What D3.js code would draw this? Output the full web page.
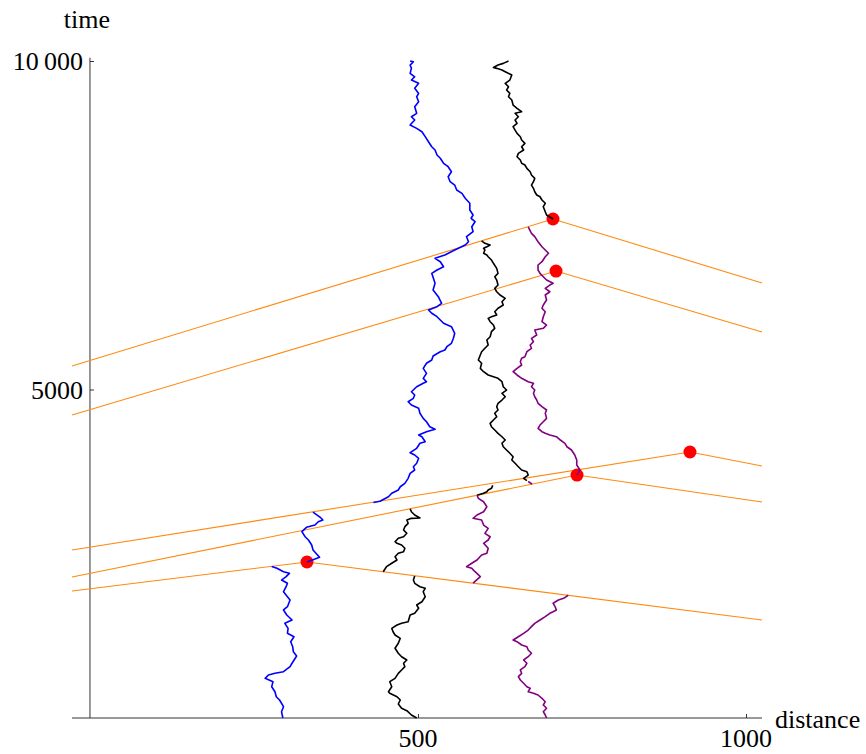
<!DOCTYPE html>
<html>
<head>
<meta charset="utf-8">
<script src="https://cdn.jsdelivr.net/npm/d3@7"></script>
<style>
  body { margin: 0; background: #fff; }
  svg text { font-family: "Liberation Serif", "Times New Roman", serif; }
</style>
</head>
<body>
<div id="container"></div>
<script>
const width = 866;
const height = 754;

// plot range (distance, time)
const xRange = [-27.4, 1024.4];
const tRange = [0, 10000];
const xTicks = [500, 1000];
const tTicks = [5000, 10000];
const tTickLabels = ["5000", "10\u2009000"];

// light rays: left edge -> event -> right edge
const rayLeftT = [1933, 2146, 2557, 4612, 5357];
const eventX = [330.8, 742.4, 914.6, 710.4, 705.8];
const eventT = [2374, 3698, 4049, 6803, 7595];
const rayRightT = [1492, 3288, 3835, 5875, 6621];

// walk pieces, [distance, time]
const blueA = [[294,0],[292,96],[295,172],[289,274],[284,324],[282,400],[277,476],[279,553],[267,604],[272,654],[282,680],[295,705],[305,781],[308,833],[315,944],[310,1009],[309,1085],[306,1161],[311,1237],[301,1289],[302,1365],[297,1441],[308,1492],[300,1568],[295,1644],[301,1694],[305,1796],[301,1846],[295,1922],[299,1998],[301,2050],[292,2100],[299,2151],[304,2202],[295,2227],[285,2278],[277,2306]];
const blueB = [[331,2374],[350,2446],[340,2557],[338,2633],[333,2709],[328,2759],[323,2836],[330,2902],[343,2937],[348,2988],[355,3014],[351,3055],[340,3135]];
const blueC = [[432,3280],[442,3300],[455,3368],[460,3420],[470,3470],[473,3520],[480,3572],[485,3648],[488,3724],[495,3775],[493,3825],[498,3877],[501,3953],[495,4003],[488,4038],[498,4105],[503,4181],[511,4205],[506,4281],[501,4307],[513,4358],[526,4394],[518,4434],[513,4510],[508,4561],[503,4638],[501,4714],[490,4764],[485,4814],[493,4866],[495,4916],[490,4966],[498,5042],[508,5094],[513,5118],[508,5170],[513,5246],[508,5322],[513,5399],[521,5449],[523,5510],[534,5575],[541,5601],[544,5651],[551,5703],[554,5779],[556,5855],[551,5956],[539,6008],[534,6058],[529,6108],[521,6160],[516,6210],[529,6260],[536,6312],[531,6412],[523,6514],[526,6616],[521,6768],[529,6819],[539,6869],[534,6945],[526,6997],[541,7047],[556,7123],[572,7199],[577,7249],[574,7326],[584,7402],[582,7478],[587,7554],[581,7606],[584,7656],[579,7732],[579,7834],[572,7910],[567,7986],[559,8036],[556,8112],[549,8163],[546,8239],[551,8315],[546,8391],[539,8443],[534,8519],[529,8569],[526,8645],[521,8695],[516,8771],[511,8848],[506,8923],[498,8975],[488,9025],[495,9102],[490,9152],[498,9204],[495,9304],[501,9380],[498,9456],[501,9507],[495,9584],[501,9660],[490,9710],[495,9760],[488,9812],[490,9888],[488,9938],[493,9989],[488,10000]];

const blackA = [[498,0],[490,46],[483,111],[475,148],[470,213],[473,274],[468,324],[457,376],[455,400],[460,476],[457,553],[465,604],[470,680],[475,731],[480,781],[478,833],[483,883],[475,933],[470,985],[465,1061],[470,1137],[473,1213],[465,1263],[462,1313],[460,1365],[468,1415],[475,1441],[485,1466],[488,1568],[495,1594],[501,1670],[498,1720],[506,1770],[511,1846],[508,1922],[511,1974],[503,1998],[495,2050],[493,2100],[495,2163]];
const blackB = [[447,2226],[452,2303],[460,2355],[468,2405],[465,2455],[470,2507],[478,2531],[480,2583],[475,2633],[468,2659],[465,2683],[470,2735],[478,2759],[483,2811],[478,2861],[480,2912],[485,2963],[483,3014],[490,3039],[503,3045],[495,3090],[490,3140],[488,3183]];
const blackC = [[590,3390],[600,3420],[605,3444],[607,3470],[612,3496],[614,3540]];
const blackD = [[666,3612],[661,3648],[668,3698],[666,3749],[658,3775],[653,3825],[648,3877],[643,3927],[645,3977],[640,4029],[635,4079],[630,4129],[628,4181],[633,4231],[628,4281],[622,4333],[617,4383],[612,4434],[610,4485],[615,4536],[620,4586],[617,4638],[622,4688],[620,4738],[622,4790],[628,4840],[633,4890],[628,4942],[635,4992],[630,5042],[628,5119],[622,5170],[615,5195],[607,5221],[600,5271],[595,5322],[597,5399],[592,5449],[595,5525],[597,5575],[602,5627],[607,5677],[605,5753],[610,5803],[612,5880],[617,5931],[615,5981],[610,6032],[607,6083],[612,6108],[620,6134],[617,6184],[622,6236],[630,6286],[628,6336],[633,6388],[625,6438],[620,6488],[617,6540],[622,6590],[620,6666],[617,6717],[622,6768],[620,6844],[615,6921],[612,6971],[607,7021],[605,7047],[600,7073],[602,7123],[600,7149],[605,7173],[610,7199],[602,7225],[597,7263]];
const blackE = [[706,7595],[696,7656],[694,7706],[691,7782],[694,7834],[689,7884],[686,7934],[681,7960],[678,8010],[676,8062],[673,8112],[676,8163],[678,8214],[673,8264],[671,8315],[666,8366],[663,8417],[658,8443],[656,8493],[651,8543],[653,8594],[661,8645],[658,8695],[663,8747],[658,8797],[656,8848],[651,8899],[648,8949],[645,9000],[651,9051],[648,9102],[653,9152],[648,9204],[658,9228],[651,9280],[645,9330],[643,9406],[638,9456],[640,9508],[635,9558],[638,9608],[633,9660],[640,9710],[643,9786],[633,9837],[628,9863],[620,9888],[615,9900],[622,9939],[630,9964],[638,10000]];

const purpleA = [[696,0],[694,46],[691,96],[696,148],[691,198],[694,248],[689,300],[683,350],[676,376],[668,400],[671,452],[666,476],[661,528],[656,578],[653,629],[658,680],[656,731],[663,781],[666,833],[661,883],[668,933],[673,985],[668,1035],[666,1085],[658,1111],[651,1161],[645,1187],[653,1237],[661,1289],[668,1339],[673,1390],[678,1441],[686,1492],[694,1542],[701,1594],[706,1618],[711,1644],[709,1694],[706,1746],[714,1796],[722,1822],[729,1868]];
const purpleB = [[584,2052],[595,2151],[587,2227],[582,2278],[574,2303],[582,2355],[590,2405],[597,2481],[605,2507],[607,2583],[600,2659],[607,2709],[610,2759],[602,2811],[607,2887],[600,2937],[597,3014],[584,3039],[590,3090],[600,3140],[605,3216],[600,3292],[592,3344],[590,3390]];
const purpleC = [[674,3560],[668,3600]];
const purpleD = [[742,3698],[747,3775],[742,3851],[742,3927],[739,4003],[734,4079],[727,4129],[724,4181],[717,4231],[711,4281],[701,4307],[694,4333],[689,4358],[683,4409],[686,4459],[691,4510],[696,4561],[694,4638],[696,4688],[689,4738],[683,4790],[681,4840],[678,4890],[676,4942],[678,4992],[673,5042],[676,5094],[668,5118],[658,5170],[651,5221],[645,5271],[651,5322],[658,5373],[656,5423],[658,5475],[663,5499],[666,5575],[673,5627],[671,5677],[676,5727],[673,5779],[681,5829],[678,5905],[691,5931],[696,5981],[689,6032],[691,6108],[694,6184],[689,6236],[691,6286],[696,6362],[694,6438],[701,6488],[694,6540],[701,6590],[706,6616],[696,6666],[691,6717],[686,6768],[683,6819],[683,6895],[689,6945],[694,7021],[699,7073],[694,7123],[689,7173],[683,7249],[678,7326],[673,7377],[668,7475]];

const walks = [
  { pts: blueA, color: "#0000ff" },
  { pts: blueB, color: "#0000ff" },
  { pts: blueC, color: "#0000ff" },
  { pts: blackA, color: "#000000" },
  { pts: blackB, color: "#000000" },
  { pts: blackC, color: "#000000" },
  { pts: blackD, color: "#000000" },
  { pts: blackE, color: "#000000" },
  { pts: purpleA, color: "#800080" },
  { pts: purpleB, color: "#800080" },
  { pts: purpleC, color: "#800080" },
  { pts: purpleD, color: "#800080" }
];

const rays = eventX.map((ex, i) => [
  [xRange[0], rayLeftT[i]],
  [ex, eventT[i]],
  [xRange[1], rayRightT[i]]
]);

const x = d3.scaleLinear().domain(xRange).range([72, 762]);
const y = d3.scaleLinear().domain(tRange).range([718, 61]);

const svg = d3.select("#container").append("svg")
    .attr("width", width)
    .attr("height", height);

const line = d3.line()
    .x(d => x(d[0]))
    .y(d => y(d[1]));

// axes
const axisColor = "#333";
svg.append("g").attr("transform", `translate(0,${y(0)})`)
    .call(d3.axisTop(x).tickValues(xTicks).tickSize(4).tickFormat(""));
svg.append("g").attr("transform", `translate(${x(0)},0)`)
    .call(d3.axisRight(y).tickValues(tTicks).tickSize(4).tickFormat(""));
svg.selectAll(".domain").remove();
svg.selectAll(".tick line").attr("stroke", axisColor);

svg.append("line")
    .attr("x1", x(xRange[0])).attr("x2", x(xRange[1]))
    .attr("y1", y(0)).attr("y2", y(0))
    .attr("stroke", axisColor);
svg.append("line")
    .attr("x1", x(0)).attr("x2", x(0))
    .attr("y1", y(0)).attr("y2", y(10050))
    .attr("stroke", axisColor);

svg.selectAll(".xlab")
    .data(xTicks)
    .enter().append("text")
    .attr("x", d => x(d))
    .attr("y", y(0) + 29)
    .attr("text-anchor", "middle")
    .attr("font-size", 26)
    .text(d => d);

svg.selectAll(".ylab")
    .data(tTicks)
    .enter().append("text")
    .attr("x", x(0) - 7)
    .attr("y", d => y(d) + 9)
    .attr("text-anchor", "end")
    .attr("font-size", 26)
    .text((d, i) => tTickLabels[i]);

svg.append("text")
    .attr("x", x(0) - 3)
    .attr("y", 28)
    .attr("text-anchor", "middle")
    .attr("font-size", 26)
    .text("time");

svg.append("text")
    .attr("x", x(xRange[1]) + 13)
    .attr("y", y(0) + 10)
    .attr("font-size", 26)
    .text("distance");

// rays
svg.selectAll(".ray")
    .data(rays)
    .enter().append("path")
    .attr("d", line)
    .attr("fill", "none")
    .attr("stroke", "#ff8a10")
    .attr("stroke-width", 1.1);

// events
svg.selectAll(".event")
    .data(eventX)
    .enter().append("circle")
    .attr("cx", d => x(d))
    .attr("cy", (d, i) => y(eventT[i]))
    .attr("r", 6.5)
    .attr("fill", "#ff0000");

// walks
svg.selectAll(".walk")
    .data(walks)
    .enter().append("path")
    .attr("d", d => line(d.pts))
    .attr("fill", "none")
    .attr("stroke", d => d.color)
    .attr("stroke-width", 1.6)
    .attr("stroke-linejoin", "round");
</script>
</body>
</html>
